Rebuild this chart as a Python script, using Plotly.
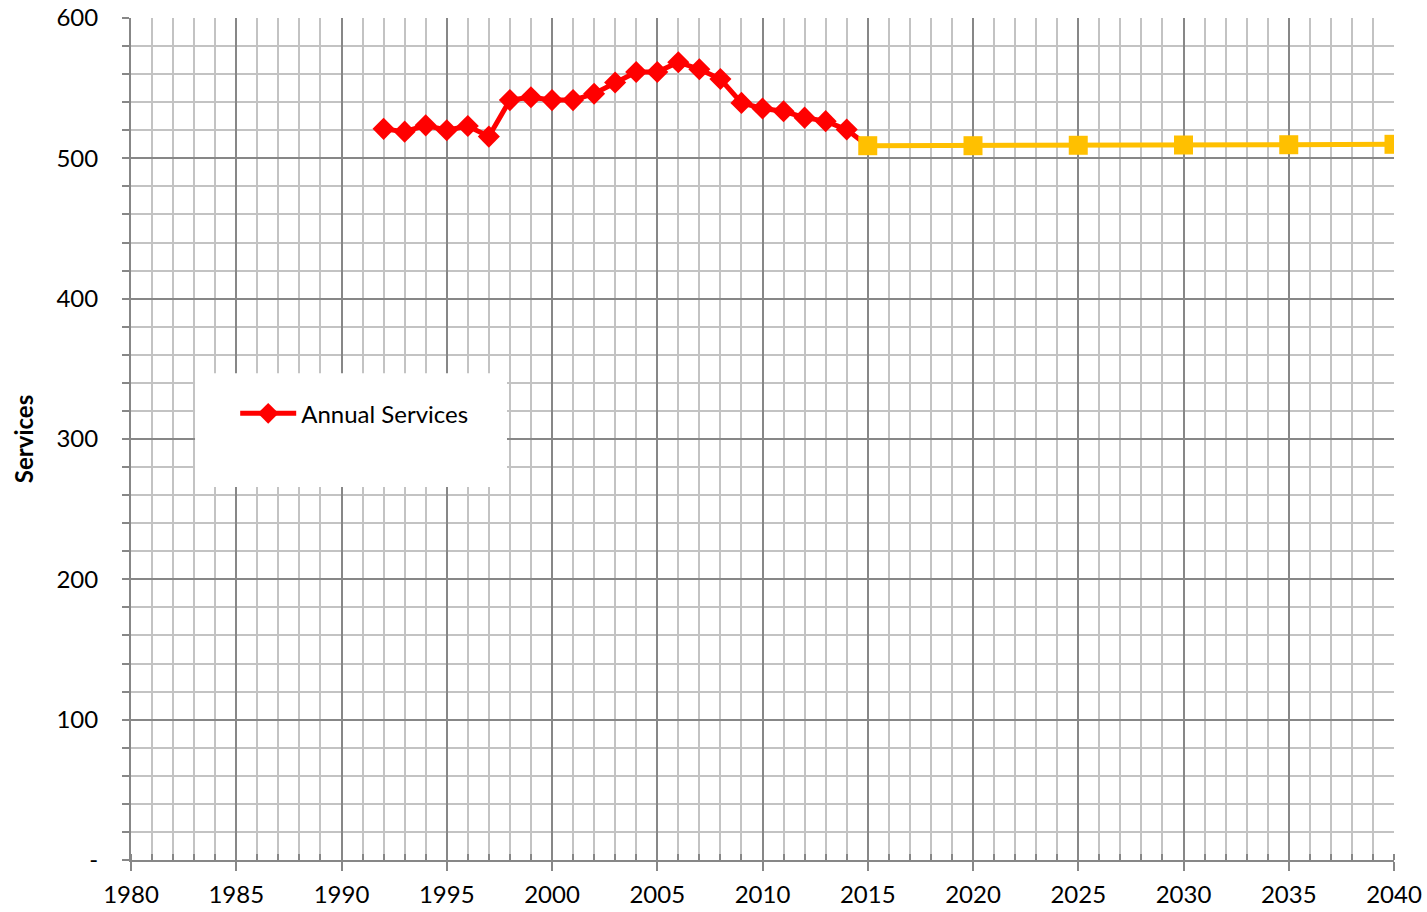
import plotly.graph_objects as go

hist_years = [1992, 1993, 1994, 1995, 1996, 1997, 1998, 1999, 2000, 2001, 2002, 2003,
              2004, 2005, 2006, 2007, 2008, 2009, 2010, 2011, 2012, 2013, 2014, 2015]
hist_values = [521, 519, 523.5, 520, 523, 515.5, 541.5, 543.5, 541.5, 541.5, 546, 554,
               561.5, 561.5, 568.5, 563.5, 556.5, 539.5, 535.5, 533.5, 529, 526.5, 520.5, 509]

proj_years = [2015, 2020, 2025, 2030, 2035, 2040]
proj_values = [509, 509, 509.3, 509.5, 509.7, 510]

y_tickvals = [0, 100, 200, 300, 400, 500, 600]
y_ticktext = ["-", "100", "200", "300", "400", "500", "600"]
x_tickvals = [1980, 1985, 1990, 1995, 2000, 2005, 2010, 2015, 2020, 2025, 2030, 2035, 2040]

FONT = "Lato"
MAJOR = "#878787"
MINOR = "#c3c3c3"

fig = go.Figure()

hist_marker_sizes = [17] * (len(hist_years) - 1) + [0]

fig.add_trace(go.Scatter(
    x=hist_years, y=hist_values, mode="lines+markers", name="Annual Services",
    line=dict(color="#ff0000", width=5),
    marker=dict(symbol="diamond", size=hist_marker_sizes, color="#ff0000",
                opacity=1, line=dict(width=0)),
))
fig.add_trace(go.Scatter(
    x=proj_years, y=proj_values, mode="lines+markers", name="Projection",
    showlegend=False,
    line=dict(color="#ffc000", width=5),
    marker=dict(symbol="square", size=19, color="#ffc000", opacity=1,
                line=dict(width=0)),
))

# white legend box
fig.add_shape(type="rect", xref="paper", yref="paper",
              x0=0.0507, x1=0.2977, y0=0.443, y1=0.578,
              fillcolor="white", line=dict(width=0), layer="above")

fig.update_layout(
    width=1427, height=912,
    margin=dict(l=131, r=33, t=18, b=52),
    paper_bgcolor="white", plot_bgcolor="white",
    font=dict(family=FONT, size=24, color="#000000"),
    showlegend=True,
    legend=dict(x=0.0825, y=0.53, xanchor="left", yanchor="middle",
                bgcolor="rgba(0,0,0,0)", font=dict(family=FONT, size=24),
                itemwidth=56),
)

fig.update_xaxes(
    range=[1980, 2040], tickmode="array", tickvals=x_tickvals,
    automargin=False,
    showgrid=True, gridcolor=MAJOR, gridwidth=2,
    showline=True, linecolor=MAJOR, linewidth=2,
    ticks="outside", ticklen=9, tickwidth=2, tickcolor=MAJOR,
    ticklabelstandoff=3,
    tickfont=dict(family=FONT, size=24),
    zeroline=False,
    minor=dict(dtick=1, showgrid=True, gridcolor=MINOR, gridwidth=2,
               ticks="inside", ticklen=6, tickwidth=2, tickcolor=MAJOR),
)
fig.update_yaxes(
    range=[0, 600], tickmode="array", tickvals=y_tickvals, ticktext=y_ticktext,
    automargin=False,
    showgrid=True, gridcolor=MAJOR, gridwidth=2,
    showline=True, linecolor=MAJOR, linewidth=2,
    ticks="outside", ticklen=7, tickwidth=2, tickcolor=MAJOR,
    ticklabelstandoff=19,
    tickfont=dict(family=FONT, size=24),
    zeroline=False,
    title=dict(text="<b>Services</b>", font=dict(family=FONT, size=24), standoff=16),
    minor=dict(dtick=20, showgrid=True, gridcolor=MINOR, gridwidth=2,
               ticks="outside", ticklen=7, tickwidth=2, tickcolor=MAJOR),
)

fig.write_html("out.html",
               config={"displayModeBar": False},
               post_script="document.body.style.margin='0';document.body.style.overflow='hidden';")
